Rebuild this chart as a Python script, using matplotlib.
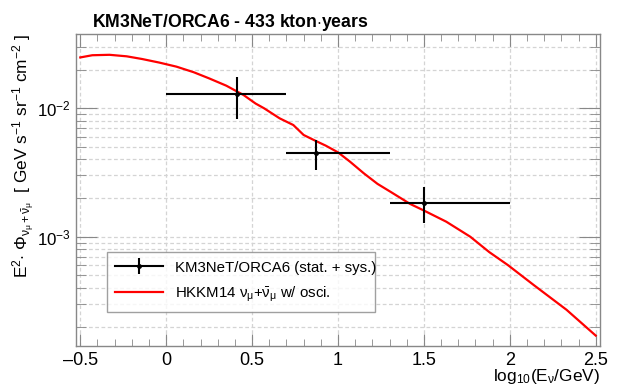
import matplotlib
matplotlib.use("Agg")
import matplotlib.pyplot as plt
import numpy as np
from matplotlib.ticker import LogLocator, MultipleLocator, NullFormatter
from matplotlib.lines import Line2D
from matplotlib.legend_handler import HandlerTuple

plt.rcParams['font.family'] = ['Liberation Sans', 'DejaVu Sans']
plt.rcParams['mathtext.fontset'] = 'custom'
plt.rcParams['mathtext.rm'] = 'Liberation Sans'
plt.rcParams['mathtext.it'] = 'Liberation Sans'
plt.rcParams['mathtext.bf'] = 'Liberation Sans:bold'

# ---- data ----
data_x = [0.41, 0.87, 1.50]
data_y = [0.0129, 0.00447, 0.00184]
data_xlo = [0.00, 0.70, 1.30]
data_xhi = [0.70, 1.30, 2.00]
data_ylo = [0.0082, 0.00331, 0.00127]
data_yhi = [0.0176, 0.00566, 0.00243]

model_x = [-0.50, -0.43, -0.33, -0.23, -0.14, -0.04, 0.06, 0.16, 0.25, 0.35, 0.45,
           0.52, 0.57, 0.66, 0.74, 0.80, 0.86, 0.93, 1.00, 1.07, 1.15, 1.23, 1.31,
           1.42, 1.50, 1.63, 1.77, 1.88, 1.99, 2.14, 2.33, 2.50]
model_y = [0.0249, 0.0259, 0.0261, 0.0254, 0.0242, 0.0227, 0.0211, 0.0191, 0.0171,
           0.0150, 0.0127, 0.0109, 0.0100, 0.00836, 0.00741, 0.00620, 0.00566,
           0.00511, 0.00454, 0.00384, 0.00312, 0.00258, 0.00222, 0.00180, 0.00160,
           0.00131, 0.00100, 0.00076, 0.00060, 0.00042, 0.00027, 0.00017]

title = "KM3NeT/ORCA6 - 433 kton$\\cdot$years"
data_label = "KM3NeT/ORCA6 (stat. + sys.)"
model_label = r"HKKM14 $\nu_{\mu}$+$\bar{\nu}_{\mu}$ w/ osci."

W, H = 618, 390
fig = plt.figure(figsize=(W/100, H/100), dpi=100)
L, R, T, B = 76, 600, 34, 346
ax = fig.add_axes([L/W, 1 - B/H, (R-L)/W, (B-T)/H])

xarr = np.array(data_x); yarr = np.array(data_y)
xerr = [xarr - np.array(data_xlo), np.array(data_xhi) - xarr]
yerr = [yarr - np.array(data_ylo), np.array(data_yhi) - yarr]

line, = ax.plot(model_x, model_y, color='#ff0000', lw=1.6, zorder=3)
eb = ax.errorbar(data_x, data_y, xerr=xerr, yerr=yerr, fmt='o', color='black',
                 ms=2.5, lw=1.5, capsize=0, zorder=4)

ax.set_yscale('log')
ax.set_xlim(-0.525, 2.525)
ax.set_ylim(1.41e-4, 0.0379)

ax.xaxis.set_major_locator(MultipleLocator(0.5))
ax.xaxis.set_minor_locator(MultipleLocator(0.1))
ax.xaxis.set_major_formatter(matplotlib.ticker.FuncFormatter(
    lambda v, p: ('\u2013' + f"{abs(v):g}") if v < 0 else f"{v:g}"))
ax.yaxis.set_major_locator(LogLocator(base=10, numticks=10))
ax.yaxis.set_minor_locator(LogLocator(base=10, subs=np.arange(2, 10), numticks=20))
ax.yaxis.set_minor_formatter(NullFormatter())

gcol = '#888888'
for s in ax.spines.values():
    s.set_color(gcol); s.set_linewidth(1.0)
ax.tick_params(which='both', direction='in', top=True, right=True, color=gcol,
               labelsize=13, labelcolor='black')
ax.tick_params(axis='x', which='major', length=9, pad=4)
ax.tick_params(axis='x', which='minor', length=5)
ax.tick_params(axis='y', which='major', length=15, labelsize=12.2, pad=4)
ax.tick_params(axis='y', which='minor', length=7)

ax.grid(True, which='major', axis='both', color='#d4d4d4', ls=(0, (3, 2)), lw=0.9, zorder=0)
ax.grid(True, which='minor', axis='y', color='#d4d4d4', ls=(0, (3, 2)), lw=0.9, zorder=0)
ax.set_axisbelow(True)

h_data = (Line2D([], [], color='black', lw=1.5),
          Line2D([], [], color='black', ls='none', marker='|', ms=11, mew=1.5),
          Line2D([], [], color='black', ls='none', marker='o', ms=2.5))
h_model = Line2D([], [], color='#ff0000', lw=1.6)
leg = ax.legend([h_data, h_model], [data_label, model_label], loc='lower left',
                handler_map={tuple: HandlerTuple(ndivide=1, pad=0)},
                bbox_to_anchor=((107-L)/(R-L), (B-312)/(B-T), (375-107)/(R-L), (312-255)/(B-T)),
                mode='expand', fontsize=10.8, frameon=True, fancybox=False,
                borderaxespad=0, handlelength=3.2, labelspacing=0.65, borderpad=0.55,
                handletextpad=0.8)
leg.get_frame().set_edgecolor(gcol)
leg.get_frame().set_linewidth(1.0)

fig.text(92/W, 1 - 27/H, title, fontsize=12.7, fontweight='bold', ha='left', va='baseline')
fig.text(R/W, 1 - 381/H, r"log$_{10}$(E$_{\nu}$/GeV)", fontsize=12.4, ha='right', va='baseline')
fig.text(29/W, 1 - 34/H,
         r"E$^{2}$$\cdot$ $\Phi_{\nu_{\mu}+\bar{\nu}_{\mu}}$  [ GeV s$^{-1}$ sr$^{-1}$ cm$^{-2}$ ]",
         fontsize=12.4, rotation=90, rotation_mode='anchor', ha='right', va='baseline')

fig.savefig('out.png', dpi=100)
